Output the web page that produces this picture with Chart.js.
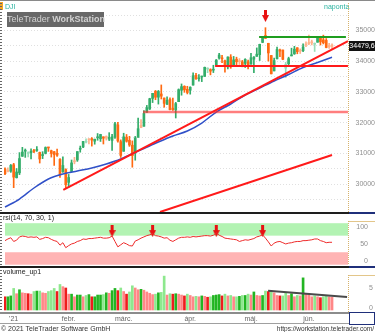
<!DOCTYPE html>
<html>
<head>
<meta charset="utf-8">
<script src="https://cdn.jsdelivr.net/npm/chart.js@4.4.1/dist/chart.umd.min.js"></script>
<style>
html,body{margin:0;padding:0;background:#fff;}
#wrap{position:relative;width:375px;height:332px;overflow:hidden;font-family:"Liberation Sans",Arial,sans-serif;}
canvas{position:absolute;left:0;}
.t{position:absolute;white-space:nowrap;line-height:1;}
.d{position:absolute;}
.dotv{background:repeating-linear-gradient(to bottom,#d6b26a 0 1px,transparent 1px 2px);}
</style>
</head>
<body>
<div id="wrap">
  <canvas id="cMain" width="375" height="213" style="top:0"></canvas>
  <canvas id="cRsi" width="375" height="54" style="top:213px"></canvas>
  <canvas id="cVol" width="375" height="57" style="top:267px"></canvas>

  <div class="d" style="left:0;top:0;width:375px;height:1px;background:#8a8a8a"></div>
  <div class="d" style="left:0;top:2px;width:3px;height:8px;background:#f5a623"></div>
  <div class="t" style="left:5px;top:3px;font-size:7px;color:#2ab3a0">DJI</div>
  <div class="t" style="left:324px;top:3px;font-size:7px;color:#2ab3a0">naponta</div>
  <div class="t" style="left:7px;top:12px;width:97px;height:15px;background:#686868;color:#d2d2d2;font-size:9px;line-height:15px;text-align:center">TeleTrader <b>WorkStation</b></div>

  <div class="d" style="left:0;top:3px;width:2px;height:309px;background:repeating-linear-gradient(to bottom,#666 0 1px,transparent 1px 3px)"></div>

  <div class="d dotv" style="left:348px;top:3px;width:1px;height:209px"></div>
  <div class="d" style="left:0;top:212px;width:349px;height:2px;background:#1e1e1e"></div>
  <div class="d" style="left:349px;top:212px;width:26px;height:2px;background:#1f2f7a"></div>

  <div class="t" style="left:3px;top:214px;font-size:7px;color:#222">rsi(14, 70, 30, 1)</div>
  <div class="d dotv" style="left:348px;top:221px;width:1px;height:44px"></div>
  <div class="d" style="left:349px;top:221px;width:26px;height:1px;background:#e3c68a"></div>
  <div class="d" style="left:0;top:266px;width:349px;height:2px;background:#1e1e1e"></div>
  <div class="d" style="left:349px;top:266px;width:26px;height:2px;background:#1f2f7a"></div>

  <div class="t" style="left:3px;top:268px;font-size:7px;color:#222">volume_up1</div>
  <div class="d dotv" style="left:348px;top:275px;width:1px;height:37px"></div>
  <div class="d" style="left:349px;top:275px;width:26px;height:1px;background:#e3c68a"></div>
  <div class="d" style="left:0;top:312px;width:349px;height:2px;background:#8c8c8c"></div>
  <div class="d" style="left:0;top:323px;width:349px;height:1px;background:#a0a0a0"></div>
  <div class="d" style="left:349px;top:312px;width:26px;height:13px;box-sizing:border-box;border:1px solid #1f2f7a"></div>

  <div class="t" style="left:1px;top:325px;font-size:7px;color:#333">© 2021 TeleTrader Software GmbH</div>
  <div class="t" style="right:1px;top:326px;font-size:6.5px;color:#333">https://workstation.teletrader.com/</div>
</div>

<script>
// Daily DJI quotes, 29 Dec 2020 – 11 Jun 2021 (one entry per trading day)
const open = [
  30490,30415,30417,
  30627,30205,30362,30904,31069,30991,31016,31085,31093,31028,30927,30998,31183,31085,31052,30997,30800,30400,30470,
  30054,30406,30725,30783,31134,31205,31364,31447,31477,31394,31505,31474,31537,31548,31460,31420,31524,31926,31381,
  31066,31527,31425,31263,31017,31525,31910,31880,32337,32442,32787,33022,32828,32933,32801,32594,32750,32470,32414,32681,33054,33182,33083,
  33054,33223,33540,33427,33485,33508,33742,33727,33709,33876,34104,34110,34016,33814,34133,33842,34065,33991,33978,33930,33980,
  33904,34065,34158,34215,34614,34838,34584,34187,33684,34077,34367,34364,33773,33918,34173,34240,34437,34336,34341,34551,
  34584,34614,34551,34618,34763,34694,34678,34512,34528
];
const high = [
  30526,30525,30637,
  30674,30504,31023,31194,31141,31048,31149,31132,31223,31040,31053,31209,31196,31104,31062,31135,30825,30886,30496,
  30312,30782,30868,31056,31236,31386,31469,31476,31512,31463,31644,31620,31537,31568,31672,31617,32010,32009,31437,
  31654,31613,31553,31404,31550,32150,32099,32389,32560,32793,32953,33047,33048,33227,32801,32838,32811,32795,32659,33098,33259,33201,33183,
  33167,33618,33609,33567,33514,33810,33786,33752,33868,34056,34257,34188,34039,34145,34214,34156,34131,34087,34026,34082,34040,
  34256,34153,34433,34555,34811,35092,34584,34187,34101,34462,34395,34365,33961,34131,34424,34484,34441,34401,34563,34631,
  34850,34685,34595,34808,34812,34849,34738,34582,34569
];
const low = [
  30300,30394,30380,
  29881,30194,30305,30898,30867,30880,30820,31022,31060,30683,30827,30980,31062,30877,30605,30900,30211,30374,29856,
  29893,30406,30657,30737,31036,31185,31337,31305,31234,31296,31425,31386,31303,31431,31414,31097,31483,31361,30864,
  31066,31363,31225,30547,30775,31518,31832,31880,32337,32427,32653,32745,32603,32769,32500,32594,32414,32400,32150,32681,32892,32986,32934,
  32926,33223,33403,33352,33335,33502,33627,33555,33630,33876,34068,33949,33642,33752,33768,33831,33846,33892,33819,33796,33752,
  33904,33627,34158,34023,34602,34742,34004,33587,33684,34077,34144,34048,33473,33868,34173,34222,34242,34251,34311,34474,
  34542,34531,34317,34618,34527,34563,34436,34415,34403
];
const close = [
  30336,30410,30606,
  30224,30392,30829,31041,31098,31009,31069,31060,31113,30814,30931,31188,31176,30997,30960,30937,30303,30603,29983,
  30212,30687,30724,31056,31148,31386,31376,31438,31431,31458,31523,31613,31493,31494,31522,31537,31962,31402,30932,
  31536,31392,31270,30924,31496,31802,31833,32297,32486,32779,32953,32826,33015,32862,32628,32731,32423,32420,32619,33073,33171,33067,32982,
  33153,33527,33430,33446,33504,33801,33745,33677,33731,34036,34201,34078,33821,34137,33816,34043,33982,33985,33820,34060,33875,
  34113,34133,34230,34549,34778,34743,34269,33588,34021,34382,34328,34061,33896,34084,34208,34394,34312,34323,34465,34529,
  34575,34600,34577,34756,34630,34600,34447,34466,34479.6
];
// volume, hundreds of millions of shares
const volume = [
  3.0,3.0,3.2,
  4.9,3.7,4.6,3.9,3.8,3.7,3.6,4.2,4.3,4.3,3.9,3.8,4.2,4.4,4.9,4.2,5.8,5.3,5.0,
  3.6,3.6,3.0,3.4,3.4,3.0,3.3,3.5,3.0,3.0,3.4,3.4,3.5,3.9,3.8,4.4,4.9,4.4,5.0,
  4.2,3.6,4.1,5.5,5.0,4.6,4.7,4.5,4.1,3.8,3.5,3.6,3.9,4.0,7.7,3.4,3.7,3.6,3.7,3.6,3.4,3.2,3.6,
  3.3,3.0,3.1,3.0,3.2,3.1,2.9,3.0,3.3,3.4,3.5,3.2,3.6,3.2,3.3,3.0,3.0,3.1,3.3,3.3,3.6,
  3.4,4.1,3.3,3.2,3.3,4.3,4.2,4.4,3.9,3.3,3.2,3.2,3.8,3.3,3.7,3.0,3.3,3.2,7.3,3.6,
  3.4,3.0,3.2,3.0,2.8,3.0,3.1,3.0,2.9
];
// RSI(14)
const rsi = [
  58,62,65,
  56,59,67,69,68,66,67,66,67,61,63,66,65,61,58,56,47,53,41,
  46,50,52,56,58,62,61,63,63,64,65,66,64,64,65,69,56,43,48,
  53,50,46,45,57,60,64,67,70,72,75,70,69,67,64,65,59,56,60,64,66,66,67,
  66,68,67,68,69,70,70,69,71,77,71,68,64,63,62,61,60,56,58,60,59,
  61,63,67,69,72,64,55,45,52,55,56,53,50,52,53,55,56,56,58,58,
  59,60,62,62,58,56,53,54,54
];

// moving average read at sample days
const maIdx = [0,5,10,15,20,25,30,35,40,43,48,53,58,63,68,73,78,83,88,93,98,103,108,113];
const maVal = [29250,29511,29870,30163,30326,30423,30521,30651,30814,30945,31156,31368,31564,31726,31987,32345,32606,32899,33127,33355,33567,33795,33958,34127];

// drawn studies: [startDay, startValue, endDay, endValue]
const upTrend      = [20.15, 29805, 118.5, 34655];
const lowerTrend   = [53.56, 29088, 113, 30945];
const supportLow   = [47.7, 32345, 118.5, 32345];
const supportHigh  = [72.6, 33844, 118.5, 33844];
const resistance   = [87.8, 34788, 117.8, 34788];
const volumeTrend  = [90.9, 4.39, 118.2, 2.95];

const priceSignalDays = [90];
const rsiSignalDays = [37, 51, 73, 89];

const monthTickIdx = [3, 22, 41, 64, 85, 105];
const monthLabels = ["'21", 'febr.', 'márc.', 'ápr.', 'máj.', 'jún.'];
const priceTicks = [29500,30000,30500,31000,31500,32000,32500,33000,33500,34000,34500,35000,35500];
const rsiTicks = [0, 50, 100];
const volTicks = [0, 5];
const rsiUpperBand = [70, 100];
const rsiLowerBand = [0, 30];

const FONT = '"Liberation Sans", Arial, sans-serif';
const X_MIN = -0.3456, X_MAX = 118.52;
const days = close.map((_, i) => i);
const prevClose = i => (i === 0 ? open[0] : close[i - 1]);

const candleColor = days.map(i => {
  const c = close[i], o = open[i], p = prevClose(i);
  if (c >= o) return c >= p ? '#33ad6a' : '#98dcb8';
  return c < p ? '#ff6a12' : '#ffb28a';
});
// hue follows the change in volume, shade follows the price move
const volumeColor = days.map(i => {
  const up = i === 0 ? false : volume[i] >= volume[i - 1];
  const priceUp = close[i] >= prevClose(i);
  if (up) return priceUp ? '#22b522' : '#8ee88e';
  return priceUp ? '#ff8787' : '#ee1c1c';
});

function segment(s, color, width) {
  return {
    type: 'line',
    data: [{x: s[0], y: s[1]}, {x: s[2], y: s[3]}],
    borderColor: color, borderWidth: width, pointRadius: 0, order: 0
  };
}

function makeArrow() {
  const c = document.createElement('canvas');
  c.width = 7; c.height = 12;
  const g = c.getContext('2d');
  g.fillStyle = '#e81212';
  g.fillRect(2, 0, 3, 6);
  g.beginPath(); g.moveTo(0, 5); g.lineTo(7, 5); g.lineTo(3.5, 12); g.closePath(); g.fill();
  return c;
}
const arrowImg = makeArrow();

// fixed-width right axis with no extra label padding
const fixRightAxis = s => { s.width = 27; s.paddingTop = 0; s.paddingBottom = 0; };

const xScale = () => ({type: 'linear', min: X_MIN, max: X_MAX, offset: false, display: false});
const common = {
  responsive: false, animation: false, devicePixelRatio: 1,
  events: [],
  plugins: {legend: {display: false}, tooltip: {enabled: false}}
};

// last price tag on the price axis
const lastPriceTag = {
  id: 'lastPriceTag',
  afterDraw(chart) {
    const {ctx} = chart;
    const v = close[close.length - 1];
    const y = chart.scales.y.getPixelForValue(v);
    ctx.save();
    ctx.fillStyle = '#111';
    ctx.fillRect(349, Math.round(y) - 5, 26, 10);
    ctx.fillStyle = '#fff';
    ctx.font = '7px ' + FONT;
    ctx.textAlign = 'center'; ctx.textBaseline = 'middle';
    ctx.fillText(v.toFixed(1).replace('.', ','), 362, Math.round(y));
    ctx.restore();
  }
};

// value labels on the right of the lower panels, kept inside the panel
const sideLabels = {
  id: 'sideLabels',
  afterDraw(chart, args, opts) {
    const {ctx, chartArea} = chart;
    const ys = chart.scales.y;
    ctx.save();
    ctx.font = '7px ' + FONT;
    ctx.fillStyle = '#8f8f8f';
    ctx.textAlign = 'right'; ctx.textBaseline = 'middle';
    opts.values.forEach(v => {
      let y = ys.getPixelForValue(v);
      y = Math.min(Math.max(y, chartArea.top + 6), chartArea.bottom - 3.5);
      ctx.fillText(String(v), opts.right, y);
    });
    ctx.restore();
  }
};

// overbought / oversold zones
const rsiZones = {
  id: 'rsiZones',
  beforeDatasetsDraw(chart) {
    const {ctx, chartArea: {left, right}, scales: {y}} = chart;
    const band = (b, color) => {
      const y1 = y.getPixelForValue(b[1]), y0 = y.getPixelForValue(b[0]);
      ctx.fillStyle = color;
      ctx.fillRect(left + 1, y1, right - left - 1, y0 - y1);
    };
    ctx.save();
    band(rsiUpperBand, '#b3f3b3');
    band(rsiLowerBand, '#ffb4b4');
    ctx.restore();
  }
};

// price panel
new Chart(document.getElementById('cMain'), {
  type: 'bar',
  data: {
    datasets: [
      segment(supportLow, 'rgba(255,40,40,0.6)', 2.5),
      segment(supportHigh, '#ff1a1a', 2),
      segment(resistance, '#1f9e1f', 2),
      segment(upTrend, '#ff1a1a', 2),
      segment(lowerTrend, '#ff1a1a', 2),
      {
        type: 'line',
        data: maIdx.map((d, k) => ({x: d, y: maVal[k]})),
        borderColor: '#3050c8', borderWidth: 1.5, pointRadius: 0,
        cubicInterpolationMode: 'monotone', order: 0
      },
      {
        type: 'line',
        data: priceSignalDays.map(d => ({x: d, y: high[d] + 380})),
        showLine: false, pointStyle: arrowImg, pointRadius: 6, order: 0
      },
      {
        data: days.map(i => ({x: i, y: [low[i], high[i]]})),
        backgroundColor: candleColor, barThickness: 1, grouped: false, order: 2
      },
      {
        data: days.map(i => ({x: i, y: [open[i], close[i]]})),
        backgroundColor: candleColor, barThickness: 2, minBarLength: 1, grouped: false, order: 1
      }
    ]
  },
  options: Object.assign({}, common, {
    layout: {autoPadding: false, padding: {left: 4, top: 3, right: 0, bottom: 1}},
    plugins: Object.assign({}, common.plugins),
    scales: {
      x: xScale(),
      y: {
        position: 'right', min: 29088, max: 35896, beginAtZero: false,
        afterFit: fixRightAxis,
        afterBuildTicks: s => { s.ticks = priceTicks.map(v => ({value: v})); },
        grid: {color: '#e0e0e0', drawTicks: false},
        border: {display: false, dash: [1, 2]},
        ticks: {
          callback: v => (v % 1000 === 0 ? String(v) : ''),
          font: {size: 7, family: FONT}, color: '#8f8f8f',
          padding: 6, crossAlign: 'far', autoSkip: false
        }
      }
    }
  }),
  plugins: [lastPriceTag]
});

// RSI panel
new Chart(document.getElementById('cRsi'), {
  type: 'line',
  data: {
    datasets: [
      {
        data: days.map(i => ({x: i, y: rsi[i]})),
        borderColor: '#ee2a2a', borderWidth: 1, pointRadius: 0, tension: 0
      },
      {
        data: rsiSignalDays.map(d => ({x: d, y: 81})),
        showLine: false, pointStyle: arrowImg, pointRadius: 6
      }
    ]
  },
  options: Object.assign({}, common, {
    layout: {autoPadding: false, padding: {left: 4, top: 8, right: 0, bottom: 2}},
    plugins: Object.assign({}, common.plugins, {sideLabels: {values: rsiTicks, right: 368}}),
    scales: {
      x: xScale(),
      y: {
        position: 'right', min: -0.72, max: 105.3,
        afterFit: fixRightAxis,
        grid: {display: false, drawTicks: false}, border: {display: false}, ticks: {display: false}
      }
    }
  }),
  plugins: [rsiZones, sideLabels]
});

// volume panel
new Chart(document.getElementById('cVol'), {
  type: 'bar',
  data: {
    datasets: [
      segment(volumeTrend, '#4a4a4a', 2),
      {
        data: days.map(i => ({x: i, y: volume[i]})),
        backgroundColor: volumeColor, barThickness: 2, grouped: false, order: 1
      }
    ]
  },
  options: Object.assign({}, common, {
    layout: {autoPadding: false, padding: {left: 4, top: 7, right: 0, bottom: 0}},
    plugins: Object.assign({}, common.plugins, {sideLabels: {values: volTicks, right: 373}}),
    scales: {
      x: {
        type: 'linear', min: X_MIN, max: X_MAX, offset: false, position: 'bottom',
        afterFit: s => { s.height = 12; s.paddingLeft = 0; s.paddingRight = 0; },
        afterBuildTicks: s => { s.ticks = monthTickIdx.map(v => ({value: v})); },
        grid: {display: false, drawTicks: false}, border: {display: false},
        ticks: {
          callback: (v, k) => monthLabels[k],
          font: {size: 7, family: FONT}, color: '#666',
          padding: 3, maxRotation: 0, autoSkip: false
        }
      },
      y: {
        position: 'right', min: -0.4545, max: 8.18, beginAtZero: false,
        afterFit: fixRightAxis,
        grid: {display: false, drawTicks: false}, border: {display: false}, ticks: {display: false}
      }
    }
  }),
  plugins: [sideLabels]
});
</script>
</body>
</html>
